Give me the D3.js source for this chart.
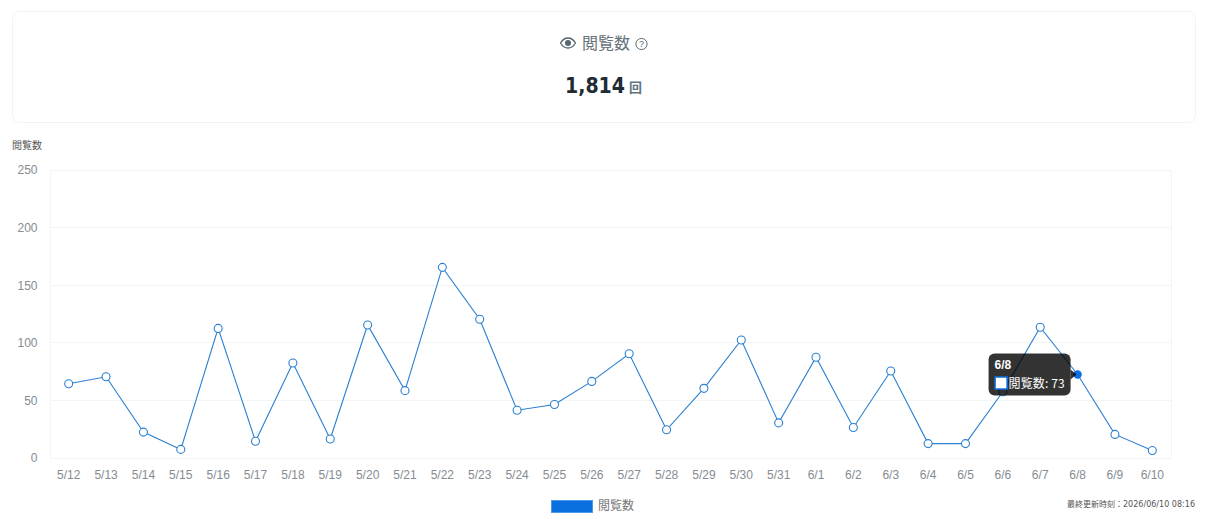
<!DOCTYPE html>
<html><head><meta charset="utf-8">
<script src="https://cdn.jsdelivr.net/npm/d3@7"></script>
<style>
html,body{margin:0;padding:0;background:#fff;overflow:hidden}
svg{display:block;font-family:"Liberation Sans",Arial,sans-serif}
</style></head><body>
<svg id="c" width="1224" height="526"></svg>
<script>
const categories=["5/12","5/13","5/14","5/15","5/16","5/17","5/18","5/19","5/20","5/21","5/22","5/23","5/24","5/25","5/26","5/27","5/28","5/29","5/30","5/31","6/1","6/2","6/3","6/4","6/5","6/6","6/7","6/8","6/9","6/10"];
const views=[65,71,23,8,113,15,83,17,116,59,166,121,42,47,67,91,25,61,103,31,88,27,76,13,13,58,114,73,21,7];
const yTicks=[0,50,100,150,200,250];
const seriesName="閲覧数";
const totalLabel="1,814";
const activeIndex=27;
const updatedLabel="2026/06/10 08:16";
const cjk='"Noto Sans CJK JP","Liberation Sans",sans-serif';
const svg=d3.select("#c");
const x=d3.scaleBand().domain(categories).range([50,1171]);
const y=d3.scaleLinear().domain([0,250]).range([458,170]);
const cx=d=>x(d)+x.bandwidth()/2;
const py=v=>y(v)+.6;

// summary card
svg.append("rect").attr("x",12.5).attr("y",11.5).attr("width",1183).attr("height",111).attr("rx",7).attr("fill","#fff").attr("stroke","#f1f3f5");
const eye=svg.append("g").attr("transform","translate(568,43)");
eye.append("path").attr("d","M-7.5,0C-5,-4.2 -2.5,-5 0,-5C2.5,-5 5,-4.2 7.5,0C5,4.2 2.5,5 0,5C-2.5,5 -5,4.2 -7.5,0Z").attr("fill","none").attr("stroke","#56656e").attr("stroke-width",1.3);
eye.append("circle").attr("r",3).attr("fill","#56656e");
svg.append("text").attr("x",582).attr("y",49).attr("font-family",cjk).attr("font-size",16).attr("fill","#66727a").text(seriesName);
const q=svg.append("g").attr("transform","translate(641.5,44)");
q.append("circle").attr("r",5.6).attr("fill","none").attr("stroke","#5f6b73").attr("stroke-width",1);
q.append("text").attr("text-anchor","middle").attr("y",3).attr("font-size",9).attr("fill","#5f6b73").text("?");
svg.append("text").attr("x",565).attr("y",93).attr("font-family",'"DejaVu Sans",sans-serif').attr("font-weight",700).attr("font-size",20.5).attr("textLength",60).attr("lengthAdjust","spacingAndGlyphs").attr("fill","#212b33").text(totalLabel);
svg.append("text").attr("x",629).attr("y",92).attr("font-family",cjk).attr("font-weight",700).attr("font-size",13).attr("fill","#5f7482").text("回");

// y title
svg.append("text").attr("x",12).attr("y",149).attr("font-family",cjk).attr("font-size",10).attr("fill","#555").text(seriesName);

// grid
const grid=svg.append("g").attr("stroke","#f3f4f5").attr("fill","none");
yTicks.forEach(t=>grid.append("line").attr("x1",50).attr("x2",1171.5).attr("y1",Math.floor(y(t))+.5).attr("y2",Math.floor(y(t))+.5));
grid.append("line").attr("x1",50.5).attr("x2",50.5).attr("y1",170).attr("y2",458);
grid.append("line").attr("x1",1171.5).attr("x2",1171.5).attr("y1",170).attr("y2",458);

// axes
const yAxis=svg.append("g").attr("transform","translate(50,0)").call(d3.axisLeft(y).tickValues(yTicks).tickSize(0).tickPadding(12.5));
yAxis.select(".domain").remove();
yAxis.selectAll("text").attr("font-size",12).attr("fill","#858c92").attr("font-family",'"Liberation Sans",Arial,sans-serif');
const xAxis=svg.append("g").attr("transform","translate(0,458)").call(d3.axisBottom(x).tickSize(0).tickPadding(12));
xAxis.select(".domain").remove();
xAxis.selectAll("text").attr("font-size",12).attr("fill","#858c92").attr("font-family",'"Liberation Sans",Arial,sans-serif');

// line
const pts=categories.map((c,i)=>({c,v:views[i],i}));
svg.append("path").datum(pts).attr("fill","none").attr("stroke","#2a7fd0").attr("stroke-width",1.1)
  .attr("d",d3.line().x(d=>cx(d.c)).y(d=>py(d.v)));
svg.append("g").selectAll("circle").data(pts.filter(d=>d.i!==activeIndex)).join("circle")
  .attr("cx",d=>cx(d.c)).attr("cy",d=>py(d.v)).attr("r",4).attr("fill","#fff").attr("stroke","#2a7fd0").attr("stroke-width",1.1);
svg.append("circle").attr("cx",cx(categories[activeIndex])).attr("cy",py(views[activeIndex])).attr("r",4.2).attr("fill","#0a70e0");

// tooltip
const ax=cx(categories[activeIndex]), ay=py(views[activeIndex]);
const tip=svg.append("g").attr("transform",`translate(${ax-89},${ay-21})`);
tip.append("rect").attr("width",82).attr("height",42).attr("rx",6).attr("fill","#000").attr("fill-opacity",.8);
tip.append("path").attr("d","M82,16L88,21L82,26Z").attr("fill","#000").attr("fill-opacity",.8);
tip.append("text").attr("x",6).attr("y",15).attr("font-size",12).attr("font-weight",700).attr("fill","#fff").text(categories[activeIndex]);
tip.append("rect").attr("x",6.5).attr("y",23.5).attr("width",12).attr("height",12).attr("fill","#fff").attr("stroke","#0a70e0").attr("stroke-width",1.5);
tip.append("text").attr("x",20).attr("y",34).attr("font-size",12).attr("fill","#fff").attr("font-family",cjk).attr("textLength",56).text(seriesName+": "+views[activeIndex]);

// legend
svg.append("rect").attr("x",551.5).attr("y",500.5).attr("width",41).attr("height",12).attr("fill","#0a70e0").attr("stroke","#4d9be8");
svg.append("text").attr("x",598).attr("y",510).attr("font-family",cjk).attr("font-size",12).attr("fill","#777").text(seriesName);

// footer
const foot=svg.append("text").attr("x",1067).attr("y",507).attr("font-family",'"DejaVu Sans",'+cjk).attr("font-size",8).attr("fill","#555");
foot.append("tspan").attr("font-family",cjk).attr("textLength",56).text("最終更新時刻：");
foot.append("tspan").attr("x",1123).attr("textLength",72).text(updatedLabel);
</script></body></html>
